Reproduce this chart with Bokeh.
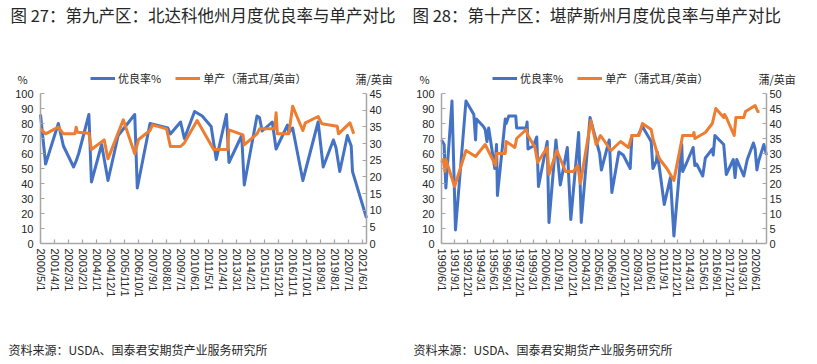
from bokeh.plotting import figure
from bokeh.models import (Range1d, LinearAxis, FixedTicker, SingleIntervalTicker,
                          Label, Legend, LegendItem, ColumnDataSource)
from bokeh.layouts import row
from bokeh.embed import file_html
from bokeh.resources import INLINE
from bokeh.core.properties import value

# ---------------- data: 第九产区 北达科他州 ----------------
nd_rate_dates = ["2000/5", "2000/9", "2001/7", "2001/11", "2002/7", "2002/9", "2002/11",
                 "2003/7", "2003/9", "2004/5", "2004/10", "2005/6", "2006/7", "2006/9",
                 "2007/7", "2008/9", "2008/11", "2009/7", "2009/10", "2010/6", "2010/12",
                 "2011/7", "2011/11", "2012/7", "2012/9", "2013/7", "2013/9", "2014/7",
                 "2014/9", "2014/11", "2015/7", "2015/10", "2016/7", "2016/8", "2016/11",
                 "2017/7", "2018/7", "2018/11", "2019/7", "2019/9", "2019/12", "2020/6",
                 "2020/9", "2020/10", "2021/9"]
nd_rate = [86, 53, 80, 65, 51, 55, 60, 86, 41, 66, 42, 72, 86, 37, 80, 77, 73, 81, 70, 88, 85,
           78, 56, 86, 54, 72, 39, 85, 84, 75, 81, 63, 79, 74, 77, 42, 81, 51, 69, 64, 48, 72,
           65, 48, 17]
nd_yield_dates = ["2000/5", "2000/9", "2001/7", "2001/11", "2002/8", "2002/9", "2002/10",
                  "2003/7", "2003/9", "2004/7", "2004/10", "2005/10", "2006/7", "2006/10",
                  "2007/7", "2007/9", "2008/8", "2008/11", "2009/7", "2009/10", "2010/8",
                  "2011/9", "2012/8", "2012/9", "2013/8", "2013/9", "2014/7", "2014/9",
                  "2015/9", "2015/10", "2015/11", "2016/8", "2016/11", "2017/7", "2017/9",
                  "2018/7", "2018/10", "2019/10", "2019/11", "2020/8", "2020/11"]
nd_yield = [34.4, 32.9, 34.9, 32.9, 32.9, 34.9, 33.4, 33.1, 28.2, 31.1, 25.4, 37.1, 26.9, 31.2,
            33.9, 35.6, 34.4, 29.1, 29.1, 30.2, 36.9, 28.2, 28.2, 34.1, 32.6, 29.6, 32.9, 34.4,
            34.4, 39.2, 32.9, 32.9, 41.2, 33.9, 36.2, 38.1, 35.9, 35.2, 32.9, 36.2, 32.9]
nd_ticks = ["2000/5/1", "2001/4/1", "2002/3/1", "2003/2/1", "2004/1/1", "2004/12/1",
            "2005/11/1", "2006/10/1", "2007/9/1", "2008/8/1", "2009/7/1", "2010/6/1",
            "2011/5/1", "2012/4/1", "2013/3/1", "2014/2/1", "2015/1/1", "2015/12/1",
            "2016/11/1", "2017/10/1", "2018/9/1", "2019/8/1", "2020/7/1", "2021/6/1"]

# ---------------- data: 第十产区 堪萨斯州 ----------------
ks_rate_dates = ["1990/6", "1990/9", "1990/11", "1991/6", "1991/10", "1992/10", "1993/7",
                 "1993/9", "1993/10", "1994/6", "1994/8", "1994/10", "1994/12", "1995/7",
                 "1995/9", "1995/10", "1996/7", "1996/8", "1996/11", "1997/7", "1997/8",
                 "1998/7", "1998/8", "1998/9", "1999/3", "1999/7", "1999/9", "2000/7",
                 "2000/9", "2001/5", "2001/10", "2002/6", "2002/10", "2003/7", "2003/10",
                 "2004/8", "2005/7", "2005/9", "2006/6", "2006/9", "2007/5", "2007/10",
                 "2008/6", "2008/8", "2009/3", "2009/8", "2010/6", "2010/8", "2010/12",
                 "2011/1", "2011/9", "2012/4", "2012/8", "2013/5", "2013/6", "2013/10",
                 "2014/6", "2014/8", "2014/10", "2015/5", "2015/8", "2016/4", "2016/5",
                 "2016/7", "2017/5", "2017/8", "2018/4", "2018/6", "2018/8", "2019/4",
                 "2019/8", "2020/3", "2020/5", "2020/7", "2020/9", "2021/3", "2021/6"]
ks_rate = [69, 66, 37, 95, 9, 95, 86, 69, 83, 78, 76, 68, 77, 50, 66, 32, 83, 80, 85, 85, 77,
           77, 81, 63, 65, 71, 38, 68, 14, 69, 39, 64, 16, 74, 14, 84, 60, 49, 69, 34, 61, 59,
           50, 72, 72, 78, 68, 50, 55, 61, 26, 44, 5, 66, 48, 53, 64, 52, 53, 45, 57, 63, 59,
           72, 66, 46, 56, 44, 56, 45, 56, 67, 63, 49, 55, 66, 59]
ks_yield_dates = ["1990/6", "1990/8", "1990/10", "1990/11", "1991/9", "1992/10", "1993/9",
                  "1994/8", "1995/8", "1995/9", "1996/7", "1996/8", "1997/6", "1997/8",
                  "1998/7", "1998/9", "1999/5", "1999/8", "2000/7", "2000/9", "2001/6",
                  "2002/4", "2003/1", "2003/6", "2003/9", "2004/9", "2005/3", "2005/8",
                  "2006/8", "2007/7", "2008/4", "2008/8", "2009/4", "2009/8", "2010/6",
                  "2010/8", "2011/1", "2011/4", "2011/12", "2012/8", "2013/6", "2014/6",
                  "2014/7", "2014/8", "2015/8", "2016/4", "2016/8", "2017/5", "2017/6",
                  "2017/8", "2018/5", "2018/7", "2019/4", "2019/6", "2020/5", "2020/8",
                  "2020/10"]
ks_yield = [27, 28, 24, 28, 19, 31, 29, 33, 26, 30, 30, 34, 32, 35, 38, 36, 32, 27, 32, 23, 31,
            24, 24, 26, 20, 41, 33, 36, 31, 34, 32, 36, 36, 40, 38, 35, 30, 28, 25, 21, 36, 36,
            37, 35, 37, 40, 45, 42, 43, 42, 36, 42, 42, 44, 46, 44, 44]
ks_ticks = ["1990/6/1", "1991/9/1", "1992/12/1", "1994/3/1", "1995/6/1", "1996/9/1",
            "1997/12/1", "1999/3/1", "2000/6/1", "2001/9/1", "2002/12/1", "2004/3/1",
            "2005/6/1", "2006/9/1", "2007/12/1", "2009/3/1", "2010/6/1", "2011/9/1",
            "2012/12/1", "2014/3/1", "2015/6/1", "2016/9/1", "2017/12/1", "2019/3/1",
            "2020/6/1"]

BLUE = "#4472C4"
ORANGE = "#ED7D31"
AXIS = "#A6A6A6"
TXT = "#262626"
CJK = "Noto Sans CJK SC"
NUM = "Liberation Sans"
H = 364
PLOT_TOP, PLOT_BOTTOM = 93, 243   # pixel rows of 100 % and 0 %


def midx(s):
    p = s.split("/")
    return int(p[0]) * 12 + int(p[1]) - 1


def make_panel(title, rate_dates, rate, yield_dates, yld, ticks, base, end, ymax2,
               W, ax_left, ax_right, title_x, legend_x, pct_x, unit_x, src_x):
    b = midx(base)
    tmax = midx(end) - b
    # the frame fills the whole canvas; axes are pinned at fixed locations
    ppm = (ax_right - ax_left) / tmax
    x0 = -ax_left / ppm
    x1 = tmax + (W - ax_right) / ppm
    ppu = (PLOT_BOTTOM - PLOT_TOP) / 100.0
    y0 = -(H - PLOT_BOTTOM) / ppu
    y1 = 100 + PLOT_TOP / ppu
    k = ymax2 / 100.0

    p = figure(width=W, height=H, output_backend="svg", toolbar_location=None,
               x_range=Range1d(x0, x1), y_range=Range1d(y0, y1),
               min_border=0, min_border_left=0, min_border_right=0,
               min_border_top=0, min_border_bottom=0)
    p.outline_line_color = None
    p.grid.visible = False
    p.extra_y_ranges = {"yld": Range1d(y0 * k, y1 * k)}

    src_r = ColumnDataSource(dict(x=[midx(d) - b for d in rate_dates], y=rate))
    src_y = ColumnDataSource(dict(x=[midx(d) - b for d in yield_dates], y=yld))
    r1 = p.line("x", "y", source=src_r, line_color=BLUE, line_width=3, line_join="round")
    r2 = p.line("x", "y", source=src_y, line_color=ORANGE, line_width=3, line_join="round",
                y_range_name="yld")

    tpos = [midx(t.rsplit("/", 1)[0]) - b for t in ticks]
    xa = p.xaxis[0]
    xa.ticker = FixedTicker(ticks=tpos)
    xa.major_label_overrides = {t: lab for t, lab in zip(tpos, ticks)}
    xa.major_label_orientation = "vertical"
    xa.fixed_location = 0
    xa.bounds = (0, tmax)
    xa.major_label_standoff = 5

    ya = p.yaxis[0]
    ya.ticker = SingleIntervalTicker(interval=10, num_minor_ticks=0)
    ya.fixed_location = 0
    ya.bounds = (0, 100)
    ya.major_label_standoff = 7

    ra = LinearAxis(y_range_name="yld",
                    ticker=SingleIntervalTicker(interval=5, num_minor_ticks=0),
                    fixed_location=tmax, bounds=(0, ymax2))
    ra.major_label_standoff = 3
    p.add_layout(ra, "right")

    for ax in (xa, ya, ra):
        ax.axis_line_color = AXIS
        ax.axis_line_width = 1.5
        ax.major_tick_line_color = AXIS
        ax.major_tick_line_width = 1.2
        ax.major_tick_in = 4
        ax.major_tick_out = 0
        ax.minor_tick_line_color = None
        ax.major_label_text_font = NUM
        ax.major_label_text_font_size = "11px"
        ax.major_label_text_color = TXT

    legend = Legend(items=[LegendItem(label=value("优良率%"), renderers=[r1]),
                           LegendItem(label=value("单产（蒲式耳/英亩）"), renderers=[r2])],
                    location=(legend_x, H - 86), orientation="horizontal",
                    border_line_color=None, background_fill_alpha=0, padding=0,
                    margin=0, spacing=14, label_standoff=3, glyph_width=25,
                    glyph_height=14, label_text_font=CJK, label_text_font_size="11px",
                    label_text_color=TXT, label_height=14)
    p.add_layout(legend)

    def lab(x, y, text, size):
        p.add_layout(Label(x=x, y=H - y, x_units="screen", y_units="screen", text=text,
                           text_font=CJK, text_font_size=size, text_color=TXT,
                           text_baseline="middle", text_align="left"))

    lab(title_x, 14, title, "16.5px")
    lab(pct_x, 78, "%", "11px")
    lab(unit_x, 78, "蒲/英亩", "11px")
    lab(src_x, 349, "资料来源：USDA、国泰君安期货产业服务研究所", "12px")
    return p


p1 = make_panel("图 27：第九产区：北达科他州月度优良率与单产对比", nd_rate_dates, nd_rate,
                nd_yield_dates, nd_yield, nd_ticks, "2000/5", "2021/9", 45,
                405, 40, 366, 10, 90, 17, 355, 8)
p2 = make_panel("图 28：第十产区：堪萨斯州月度优良率与单产对比", ks_rate_dates, ks_rate,
                ks_yield_dates, ks_yield, ks_ticks, "1990/6", "2021/6", 50,
                412, 36, 361, 7, 87, 14, 353, 8)

layout = row(p1, p2)
open("out.html", "w").write(file_html(layout, INLINE))
